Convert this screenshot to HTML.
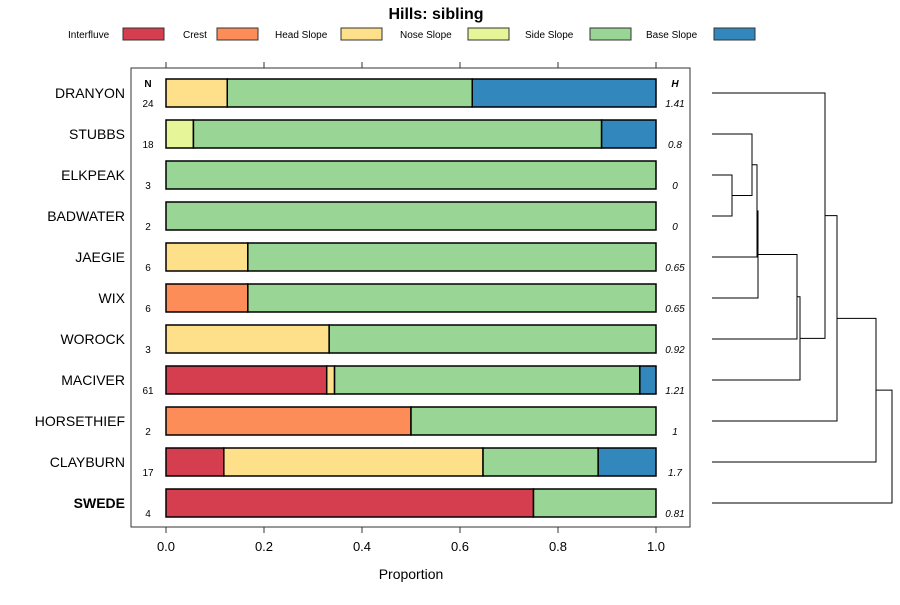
<!DOCTYPE html>
<html><head><meta charset="utf-8"><style>
body{margin:0;background:#fff;font-family:"Liberation Sans",sans-serif}
</style></head><body>
<svg width="900" height="600" viewBox="0 0 900 600" font-family="Liberation Sans, sans-serif">
<text x="436" y="19" text-anchor="middle" font-size="16" font-weight="bold">Hills: sibling</text>
<g id="legend"></g>
<rect x="131" y="68" width="559" height="459" fill="none" stroke="#333"/>
<g id="bars"></g>
<g id="axis"></g>
<text x="411" y="579" text-anchor="middle" font-size="14">Proportion</text>
<text x="148" y="87" text-anchor="middle" font-size="10" font-weight="bold">N</text>
<text x="675" y="87" text-anchor="middle" font-size="10" font-weight="bold" font-style="italic">H</text>
<g id="dend" fill="none" stroke="#000" stroke-width="1"></g>
</svg>
<script>
const categories=["Interfluve","Crest","Head Slope","Nose Slope","Side Slope","Base Slope"];
const colors=["#D53E4F","#FC8D59","#FEE08B","#E6F598","#99D594","#3288BD"];
const rows=["DRANYON","STUBBS","ELKPEAK","BADWATER","JAEGIE","WIX","WOROCK","MACIVER","HORSETHIEF","CLAYBURN","SWEDE"];
const nValues=[24,18,3,2,6,6,3,61,2,17,4];
const hValues=["1.41","0.8","0","0","0.65","0.65","0.92","1.21","1","1.7","0.81"];
const interfluve=[0,0,0,0,0,0,0,0.328,0,0.118,0.75];
const crest=[0,0,0,0,0,0.167,0,0,0.5,0,0];
const headSlope=[0.125,0,0,0,0.167,0,0.333,0.016,0,0.529,0];
const noseSlope=[0,0.056,0,0,0,0,0,0,0,0,0];
const sideSlope=[0.5,0.833,1,1,0.833,0.833,0.667,0.623,0.5,0.235,0.25];
const baseSlope=[0.375,0.111,0,0,0,0,0,0.033,0,0.118,0];
const ticks=[0,0.2,0.4,0.6,0.8,1.0];
const tickLabels=["0.0","0.2","0.4","0.6","0.8","1.0"];
// dendrogram merges: [leftNode,rightNode,height(px x)] leaves are 0..10
const merges=[[2,3,732],[1,11,752],[12,4,757],[13,5,758],[14,6,797],[15,7,800],[0,16,825],[17,8,837],[18,9,876],[19,10,892]];
const NS="http://www.w3.org/2000/svg";
const xs=v=>166+v*490;
const ys=i=>93+i*41;
function mk(t,a,p){const e=document.createElementNS(NS,t);for(const k in a)e.setAttribute(k,a[k]);p.appendChild(e);return e;}
const series=[interfluve,crest,headSlope,noseSlope,sideSlope,baseSlope];
// legend
const lg=document.getElementById('legend');
const lt=[68,183,275,400,525,646],lb=[123,217,341,468,590,714];
categories.forEach((c,k)=>{
 const t=mk('text',{x:lt[k],y:38,'font-size':'10'},lg);t.textContent=c;
 
 
 const r=mk('rect',{x:lb[k],y:28,width:41,height:12,fill:colors[k],stroke:'#333'},lg);
 
 
});
const bg=document.getElementById('bars');
rows.forEach((name,i)=>{
 const y=ys(i);
 let cum=0;
 series.forEach((s,k)=>{
  const v=s[i]; if(v<=0)return;
  const r=mk('rect',{x:xs(cum),y:y-14,width:v*490,height:28,fill:colors[k],stroke:'#000','stroke-width':1.5},bg);
  
  
  cum+=v;
 });
 const lab=mk('text',{x:125,y:y+5,'text-anchor':'end','font-size':'14','font-weight':name==='SWEDE'?'bold':'normal'},bg);
 lab.textContent=name;
 
 
 const n=mk('text',{x:148,y:y+14,'text-anchor':'middle','font-size':'10'},bg);n.textContent=nValues[i];
 
 
 const h=mk('text',{x:675,y:y+14,'text-anchor':'middle','font-size':'10','font-style':'italic'},bg);h.textContent=hValues[i];
 
 
});
const ax=document.getElementById('axis');
ticks.forEach((t,k)=>{
 const x=xs(t);
 mk('line',{x1:x,x2:x,y1:527,y2:533,stroke:'#333'},ax);
 mk('line',{x1:x,x2:x,y1:62,y2:68,stroke:'#333'},ax);
 const tx=mk('text',{x:x,y:551,'text-anchor':'middle','font-size':'13'},ax);tx.textContent=tickLabels[k];
 
 
});
const dg=document.getElementById('dend');
const nodes=rows.map((r,i)=>({x:712,y:ys(i)}));
merges.forEach(m=>{
 const a=nodes[m[0]],b=nodes[m[1]],h=m[2];
 mk('path',{d:`M${a.x},${a.y}H${h}V${b.y}H${b.x}`},dg);
 nodes.push({x:h,y:(a.y+b.y)/2});
});
</script>
</body></html>
